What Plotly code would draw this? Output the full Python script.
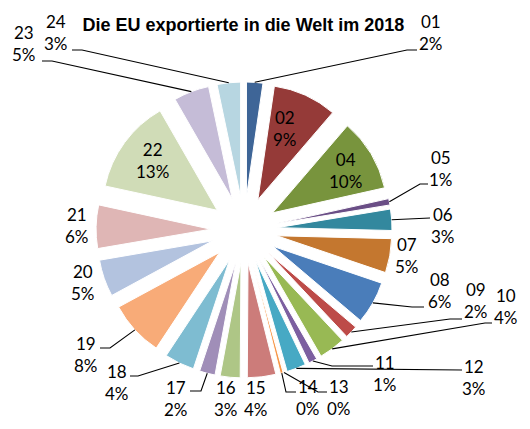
import math
import plotly.graph_objects as go

# ---------------- data ----------------
codes = ["01", "02", "04", "05", "06", "07", "08", "09", "10", "11", "12", "13",
         "14", "15", "16", "17", "18", "19", "20", "21", "22", "23", "24"]
shares = [2.3, 9.0, 10.2, 0.9, 3.0, 4.8, 6.0, 1.8, 3.7, 1.2, 2.7, 0.1,
          0.4, 4.0, 2.8, 2.2, 4.2, 7.8, 5.2, 6.1, 13.3, 5.0, 3.3]
title_text = "Die EU exportierte in die Welt im 2018"

# ---------------- styles ----------------
colors = ["#3E6597", "#953A38", "#78943D", "#6A4E86", "#33889E", "#C4772F",
          "#4A7DBA", "#BD4B48", "#98B954", "#7C5FA0", "#47A9C4", "#F4A460",
          "#F79646", "#CC7C7A", "#AEC686", "#A08EB8", "#7EBCD1", "#F8AB78",
          "#B3C3DF", "#DFB6B5", "#D0DCB7", "#C5BCD7", "#B7D6E1"]

W, H = 530, 429
PULL = 0.29
DOM_X = [0.181, 0.740]
DOM_Y = [0.119, 0.809]

# label placement (pixel centre of the two-line label), Excel-like layout
label_pos = {
    "01": (431, 33), "02": (285, 129), "04": (345, 171), "05": (441, 168),
    "06": (443, 225), "07": (407, 255), "08": (440, 290), "09": (476, 300),
    "10": (506, 306), "11": (385, 373), "12": (474, 377), "13": (339, 397),
    "14": (308, 397), "15": (256, 398), "16": (226, 398), "17": (176, 398),
    "18": (117, 382), "19": (86, 354), "20": (83, 282), "21": (77, 225),
    "22": (152, 160), "23": (24, 44), "24": (56, 32),
}
# leader-line bend and end points (pixels); start is on the slice's outer arc
leader = {
    "01": [(407, 50), (417, 50)],
    "05": [(420, 184), (428, 184)],
    "06": [(430, 218)],
    "08": [(412, 307), (424, 307)],
    "09": [(450, 319), (462, 319)],
    "10": [(485, 323), (492, 323)],
    "11": [(332, 366), (373, 366)],
    "12": [(462, 370)],
    "13": [(318, 392), (327, 392)],
    "14": [(286, 392), (296, 392)],
    "17": [(201, 391), (190, 391)],
    "18": [(138, 376), (130, 376)],
    "19": [(110, 348), (100, 348)],
    "23": [(52, 61), (42, 61)],
    "24": [(82, 50), (72, 50)],
}

# ---------------- geometry derived from the pie domain ----------------
box_w = (DOM_X[1] - DOM_X[0]) * W
box_h = (DOM_Y[1] - DOM_Y[0]) * H
cx = (DOM_X[0] + DOM_X[1]) / 2 * W
cy = (1 - (DOM_Y[0] + DOM_Y[1]) / 2) * H
r = min(box_w, box_h) / (2 + 2 * PULL)
total = sum(shares)


def px2paper(p):
    return p[0] / W, 1 - p[1] / H


fig = go.Figure(go.Pie(
    labels=codes,
    values=shares,
    sort=False,
    direction="clockwise",
    rotation=0,
    pull=PULL,
    marker=dict(colors=colors, line=dict(color="white", width=1)),
    textinfo="none",
    domain=dict(x=DOM_X, y=DOM_Y),
    hoverinfo="label+percent",
))

annotations = []
shapes = []
cum = 0.0
for code, v in zip(codes, shares):
    mid = (cum + v / 2) / total * 2 * math.pi
    cum += v
    pct = round(v / total * 100)
    lx, ly = px2paper(label_pos[code])
    annotations.append(dict(
        x=lx, y=ly, xref="paper", yref="paper", xanchor="center", yanchor="middle",
        text=f"{code}<br>{pct}%", showarrow=False,
        font=dict(family="Lato", size=17, color="black"),
    ))
    if code in leader:
        rr = r * (1 + PULL)
        start = (cx + rr * math.sin(mid), cy - rr * math.cos(mid))
        pts = [start] + leader[code]
        pp = [px2paper(p) for p in pts]
        path = "M " + " L ".join(f"{x:.5f},{y:.5f}" for x, y in pp)
        shapes.append(dict(type="path", xref="paper", yref="paper", path=path,
                           line=dict(color="black", width=1.1)))

fig.update_layout(
    width=W, height=H,
    margin=dict(l=0, r=0, t=0, b=0),
    paper_bgcolor="white",
    showlegend=False,
    title=dict(text=f"<b>{title_text}</b>",
               x=0.4594, xanchor="center", y=0.943, yanchor="middle",
               font=dict(family="Liberation Sans", size=18, color="black")),
    annotations=annotations,
    shapes=shapes,
)

fig.write_html("out.html",
               config={"displayModeBar": False},
               post_script="document.body.style.margin='0';document.body.style.padding='0';")
